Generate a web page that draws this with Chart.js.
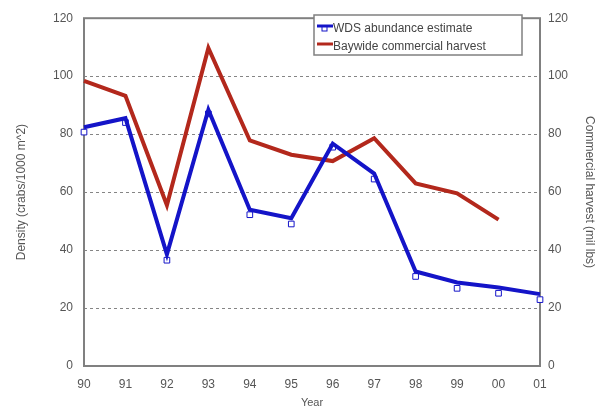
<!DOCTYPE html>
<html><head><meta charset="utf-8">
<script src="https://cdn.jsdelivr.net/npm/chart.js@4"></script>
<style>html,body{margin:0;padding:0;background:#fff;overflow:hidden}</style>
</head><body>
<canvas id="c" width="605" height="413" style="width:605px;height:413px;display:block"></canvas>
<script>
const years = ['90','91','92','93','94','95','96','97','98','99','00','01'];
const wdsLine = [82.4, 85.5, 38.5, 88.4, 53.9, 51.0, 76.7, 66.4, 32.6, 28.8, 27.1, 24.8];
const wdsMarkers = [80.7, 84.0, 36.5, 87.0, 52.2, 49.0, 75.5, 64.5, 30.9, 26.8, 25.1, 22.9];
const harvest = [98.4, 93.2, 55.5, 109.7, 77.8, 72.9, 70.7, 78.6, 63.0, 59.6, 50.5, null];
const yTicks = [0, 20, 40, 60, 80, 100, 120];
const seriesLabels = ['WDS abundance estimate', 'Baywide commercial harvest'];

const FONT = '"Liberation Sans", Arial, sans-serif';
const TXT = '#555';
const BLUE = '#1414c8';
const RED = '#b3281c';

const boxPlugin = {
  id: 'box',
  beforeDatasetsDraw(chart) {
    const a = chart.chartArea, ctx = chart.ctx;
    ctx.save();
    ctx.strokeStyle = '#808080';
    ctx.lineWidth = 2;
    ctx.strokeRect(a.left, a.top, a.right - a.left, a.bottom - a.top);
    ctx.restore();
  },
  afterDraw(chart) {
    const ctx = chart.ctx;
    const x0 = 314, y0 = 15, w = 208, h = 40;
    ctx.save();
    ctx.fillStyle = '#fff';
    ctx.fillRect(x0, y0, w, h);
    ctx.strokeStyle = '#808080';
    ctx.lineWidth = 1.5;
    ctx.strokeRect(x0, y0, w, h);
    const rows = [{y: 29, c: BLUE, m: true}, {y: 47, c: RED, m: false}];
    rows.forEach((r, i) => {
      ctx.strokeStyle = r.c;
      ctx.lineWidth = 3;
      ctx.beginPath(); ctx.moveTo(317, r.y - 3); ctx.lineTo(333, r.y - 3); ctx.stroke();
      if (r.m) {
        ctx.lineWidth = 1;
        ctx.strokeRect(322, r.y - 3, 5, 5);
      }
      ctx.fillStyle = '#444';
      ctx.font = '12px ' + FONT;
      ctx.textBaseline = 'middle';
      ctx.fillText(seriesLabels[i], 333, r.y);
    });
    ctx.restore();
  }
};

const gridColor = (c) => (c.tick && (c.tick.value === 0 || c.tick.value === 120)) ? 'rgba(0,0,0,0)' : '#858585';

new Chart(document.getElementById('c'), {
  type: 'line',
  data: {
    labels: years,
    datasets: [
      {label: seriesLabels[0], data: wdsLine, yAxisID: 'y', borderColor: BLUE, borderWidth: 4,
       pointRadius: 0, tension: 0, order: 0},
      {label: seriesLabels[1], data: harvest, yAxisID: 'y2', borderColor: RED, borderWidth: 4,
       pointRadius: 0, tension: 0, order: 1, spanGaps: false},
      {label: 'markers', data: wdsMarkers, yAxisID: 'y', showLine: false, pointStyle: 'rect',
       pointRadius: 4, pointBorderWidth: 1, pointBorderColor: BLUE, pointBackgroundColor: '#fff', order: 2}
    ]
  },
  options: {
    responsive: false,
    animation: false,
    devicePixelRatio: 1,
    layout: {padding: {top: 15, left: 0, right: 0, bottom: 0}},
    plugins: {legend: {display: false}, tooltip: {enabled: false}},
    scales: {
      x: {
        offset: false,
        grid: {display: false},
        border: {display: false},
        ticks: {color: TXT, font: {family: FONT, size: 12}, padding: 3, maxRotation: 0, autoSkip: false},
        title: {display: true, text: 'Year', color: TXT, font: {family: FONT, size: 11}, padding: {top: 0, bottom: 3}},
        afterFit(s) { s.height = 47; }
      },
      y: {
        position: 'left', min: 0, max: 120,
        afterBuildTicks(s) { s.ticks = yTicks.map(v => ({value: v})); },
        grid: {color: gridColor, lineWidth: 1, drawTicks: false},
        border: {display: false, dash: [3, 3]},
        ticks: {color: TXT, font: {family: FONT, size: 12}, padding: 11},
        title: {display: true, text: 'Density (crabs/1000 m^2)', color: TXT, font: {family: FONT, size: 12}, padding: {top: 14, bottom: 0}},
        afterFit(s) { s.width = 84; }
      },
      y2: {
        position: 'right', min: 0, max: 120,
        afterBuildTicks(s) { s.ticks = yTicks.map(v => ({value: v})); },
        grid: {drawOnChartArea: false, drawTicks: false},
        border: {display: false},
        ticks: {color: TXT, font: {family: FONT, size: 12}, padding: 8},
        title: {display: true, text: 'Commercial harvest (mil lbs)', color: TXT, font: {family: FONT, size: 12}, padding: {top: 8, bottom: 0}},
        afterFit(s) { s.width = 65; }
      }
    }
  },
  plugins: [boxPlugin]
});
</script>
</body></html>
